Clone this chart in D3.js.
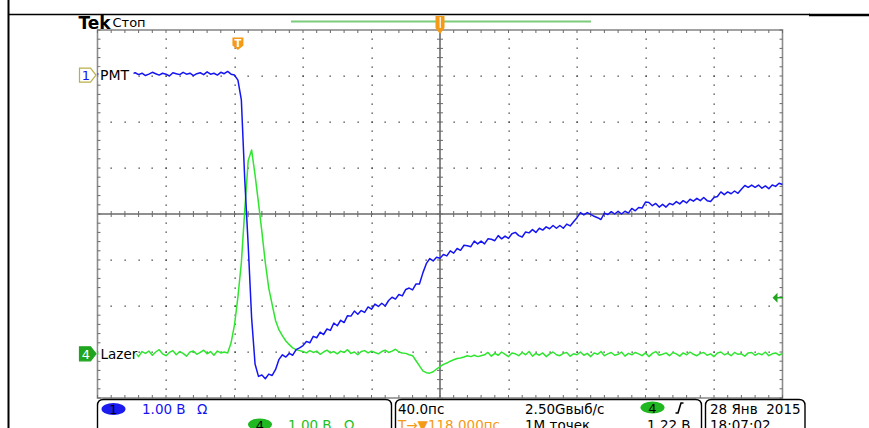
<!DOCTYPE html>
<html>
<head>
<meta charset="utf-8">
<script src="https://cdn.jsdelivr.net/npm/d3@7"></script>
<style>
  html, body { margin: 0; padding: 0; background: #fff; overflow: hidden; }
  svg { display: block; }
  text { font-family: "DejaVu Sans", sans-serif; }
</style>
</head>
<body>
<svg id="scope" width="869" height="428"></svg>
<script>
// ---- acquisition: 2 ns sample clock across the 400 ns window ----
const timeNs = d3.range(-200, 201, 2);

// CH1 "PMT" (V, relative to its ground marker)
const pmtVolts = [
  0.02, 0.04, -0.01, 0.03, 0.05, 0.00, 0.02, 0.06, 0.01, -0.02,
  0.03, 0.05, 0.01, 0.04, -0.01, 0.02, 0.06, 0.03, 0.00, 0.04,
  0.02, -0.02, 0.05, 0.03, 0.01, 0.06, 0.02, 0.04, -0.01, 0.03,
  0.05, 0.01, 0.07, 0.02, 0.04, 0.00, 0.06, 0.03, 0.08, 0.02,
  0.00, -0.11, -0.54, -2.28, -3.70, -5.28, -6.28, -6.55, -6.52, -6.60, -6.50,
  -6.53, -6.40, -6.18, -6.08, -6.13, -6.05, -6.09, -5.97, -5.93, -5.88,
  -5.79, -5.82, -5.68, -5.71, -5.59, -5.64, -5.52, -5.55, -5.39, -5.45,
  -5.33, -5.38, -5.23, -5.24, -5.13, -5.20, -5.12, -5.16, -5.04, -5.09,
  -4.98, -5.03, -4.96, -5.02, -4.90, -4.83, -4.87, -4.77, -4.80, -4.66,
  -4.63, -4.67, -4.54, -4.54, -4.30, -4.10, -3.99, -4.04, -3.96, -3.98,
  -3.90, -3.93, -3.82, -3.87, -3.77, -3.81, -3.70, -3.71, -3.73, -3.61,
  -3.67, -3.61, -3.67, -3.56, -3.57, -3.60, -3.49, -3.56, -3.50, -3.55,
  -3.45, -3.42, -3.49, -3.52, -3.41, -3.43, -3.36, -3.42, -3.33, -3.37,
  -3.30, -3.34, -3.27, -3.33, -3.27, -3.33, -3.24, -3.28, -3.19, -3.10,
  -2.99, -3.04, -2.99, -3.03, -3.07, -3.10, -3.14, -3.00, -3.03, -2.97,
  -3.02, -2.96, -3.02, -2.96, -3.00, -2.90, -2.95, -2.88, -2.89, -2.76,
  -2.77, -2.84, -2.79, -2.87, -2.81, -2.87, -2.79, -2.82, -2.75, -2.80,
  -2.73, -2.78, -2.70, -2.74, -2.68, -2.73, -2.66, -2.73, -2.75, -2.66,
  -2.64, -2.54, -2.60, -2.54, -2.58, -2.52, -2.57, -2.48, -2.40, -2.44,
  -2.39, -2.44, -2.39, -2.46, -2.41, -2.47, -2.39, -2.42, -2.35, -2.38
];

// CH4 "Lazer" (V, relative to its ground marker)
const lazerVolts = [
  0.02, -0.04, 0.05, 0.00, 0.07, -0.02, 0.03, -0.05, 0.04, 0.08,
  -0.01, 0.02, -0.06, 0.05, 0.01, 0.06, -0.03, 0.04, 0.09, 0.00,
  -0.04, 0.03, 0.07, -0.02, 0.05, 0.01, -0.05, 0.04, 0.06, -0.01,
  0.03, 0.08, 0.00, 0.05, -0.03, 0.06, 0.02, 0.04,
  0.02, 0.24, 0.63, 1.24, 1.98, 3.13, 4.20, 4.43, 3.89, 3.28,
  2.65, 1.98, 1.43, 1.07, 0.72, 0.52, 0.39, 0.28, 0.20, 0.13, 0.09, 0.07,
  0.05, 0.02, 0.07, 0.03, 0.06, -0.01, 0.04, 0.08, 0.02, 0.05,
  0.00, 0.06, 0.03, 0.09, 0.01, 0.04, -0.02, 0.05, 0.07, 0.02,
  0.06, 0.03, 0.00, 0.05, 0.08, 0.03, 0.06,
  0.10, 0.04, 0.02, 0.01, -0.02, -0.04, -0.15, -0.26, -0.37, -0.41,
  -0.42, -0.39, -0.33, -0.28, -0.23, -0.20, -0.16, -0.13, -0.10, -0.09,
  -0.07, -0.04, -0.06, -0.03, -0.06, -0.04,
  -0.02, 0.03, -0.05, 0.01, -0.03, 0.04, -0.01, -0.06, 0.02, 0.00,
  -0.04, 0.03, -0.02, 0.05, -0.05, 0.01, -0.03, 0.02, -0.06, 0.00,
  0.04, -0.02, -0.04, 0.01, 0.03, -0.05, 0.00, -0.02, 0.04, -0.03,
  0.01, -0.06, 0.02, -0.01, 0.05, -0.04, 0.00, 0.03, -0.03, -0.01,
  0.04, -0.05, 0.01, -0.02, 0.03, 0.00, -0.04, 0.02, -0.06, 0.01,
  0.05, -0.03, -0.01, 0.02, -0.04, 0.03, 0.00, -0.05, 0.02, -0.02,
  0.04, -0.01, -0.04, 0.01, 0.03, -0.03, 0.00, -0.06, 0.02, 0.04,
  -0.02, 0.01, -0.04, 0.03, -0.01, 0.00, -0.05, 0.02, 0.03, -0.03,
  0.01, -0.02, 0.04, -0.04, 0.00, 0.02, -0.03, 0.01
];

// graticule: 10 x 8 divisions, 40 ns/div, 1 V/div
const timeTicks = [-200, -160, -120, -80, -40, 0, 40, 80, 120, 160, 200];
const divTicks = [-4, -3, -2, -1, 0, 1, 2, 3, 4];
const channelLabels = ["PMT", "Lazer"];
const channelOffsetDiv = [3.02, -3.04];   // ground marker positions
const triggerTimeNs = -118;
const triggerLevelV = 1.22;

const svg = d3.select("#scope");
const x = d3.scaleLinear().domain([-200, 200]).range([97.5, 782.5]);
const y = d3.scaleLinear().domain([-4, 4]).range([398, 30]);

const GRID = "#8c8c8c", AXIS = "#6a6a6a", DOT = "#3a3a3a";
const BLUE = "#1515f2", GREEN = "#2fe52f", DKGREEN = "#1fa51f", ORANGE = "#f49a16";

// ---- frame decoration ----
svg.append("line").attr("x1", 8.5).attr("x2", 8.5).attr("y1", 0).attr("y2", 428)
  .attr("stroke", "#000").attr("stroke-width", 2);
svg.append("line").attr("x1", 8).attr("x2", 810).attr("y1", 14.5).attr("y2", 14.5)
  .attr("stroke", "#000").attr("stroke-width", 1.5);
svg.append("line").attr("x1", 809).attr("x2", 869).attr("y1", 15).attr("y2", 15)
  .attr("stroke", "#000").attr("stroke-width", 2.5);

// ---- graticule dots ----
const minorT = d3.range(-200, 200.1, 8);
const minorD = d3.range(-4, 4.01, 0.2);
const dots = svg.append("g");
timeTicks.slice(1, -1).filter(t => t !== 0).forEach(t => {
  minorD.slice(1, -1).forEach(d => {
    dots.append("rect").attr("x", Math.round(x(t)) - 0.5).attr("y", Math.round(y(d)) - 0.5)
      .attr("width", 1.3).attr("height", 1.3).attr("fill", DOT);
  });
});
divTicks.slice(1, -1).filter(d => d !== 0).forEach(d => {
  minorT.slice(1, -1).forEach(t => {
    dots.append("rect").attr("x", Math.round(x(t)) - 0.5).attr("y", Math.round(y(d)) - 0.5)
      .attr("width", 1.3).attr("height", 1.3).attr("fill", DOT);
  });
});

// ---- centre cross with ticks ----
const axisG = svg.append("g");
axisG.append("line").attr("x1", x(-200)).attr("x2", x(200)).attr("y1", y(0)).attr("y2", y(0))
  .attr("stroke", AXIS).attr("stroke-width", 1.6);
axisG.append("line").attr("x1", x(0)).attr("x2", x(0)).attr("y1", y(-4)).attr("y2", y(4))
  .attr("stroke", AXIS).attr("stroke-width", 1.6);
minorT.forEach(t => axisG.append("line").attr("x1", x(t)).attr("x2", x(t))
  .attr("y1", y(0) - 3).attr("y2", y(0) + 3).attr("stroke", AXIS).attr("stroke-width", 1));
minorD.forEach(d => axisG.append("line").attr("x1", x(0) - 3).attr("x2", x(0) + 3)
  .attr("y1", y(d)).attr("y2", y(d)).attr("stroke", AXIS).attr("stroke-width", 1));

// ---- border with inward ticks ----
axisG.append("rect").attr("x", x(-200)).attr("y", y(4)).attr("width", x(200) - x(-200))
  .attr("height", y(-4) - y(4)).attr("fill", "none").attr("stroke", GRID).attr("stroke-width", 1.6);
minorT.forEach(t => {
  axisG.append("line").attr("x1", x(t)).attr("x2", x(t)).attr("y1", y(4)).attr("y2", y(4) + 3)
    .attr("stroke", AXIS).attr("stroke-width", 1);
  axisG.append("line").attr("x1", x(t)).attr("x2", x(t)).attr("y1", y(-4)).attr("y2", y(-4) - 3)
    .attr("stroke", AXIS).attr("stroke-width", 1);
});
minorD.forEach(d => {
  axisG.append("line").attr("x1", x(-200)).attr("x2", x(-200) + 3).attr("y1", y(d)).attr("y2", y(d))
    .attr("stroke", AXIS).attr("stroke-width", 1);
  axisG.append("line").attr("x1", x(200)).attr("x2", x(200) - 3).attr("y1", y(d)).attr("y2", y(d))
    .attr("stroke", AXIS).attr("stroke-width", 1);
});

// ---- waveforms ----
const traces = [
  { volts: lazerVolts, offset: channelOffsetDiv[1], color: GREEN },
  { volts: pmtVolts, offset: channelOffsetDiv[0], color: BLUE }
];
traces.forEach(tr => {
  const line = d3.line()
    .x((d, i) => x(timeNs[i]))
    .y(d => y(d + tr.offset));
  svg.append("path").datum(tr.volts).attr("d", line)
    .attr("fill", "none").attr("stroke", tr.color).attr("stroke-width", 1.5)
    .attr("stroke-linejoin", "round");
});

// ---- channel labels and ground markers ----
function channelMarker(yy, num, fill, stroke, textFill) {
  const g = svg.append("g");
  g.append("path")
    .attr("d", `M79.5,${yy - 7} h11 l5.5,7 l-5.5,7 h-11 z`)
    .attr("fill", fill).attr("stroke", stroke).attr("stroke-width", 1.2);
  g.append("text").attr("x", 86).attr("y", yy + 5).attr("text-anchor", "middle")
    .attr("font-size", 13).attr("fill", textFill).text(num);
}
// label backgrounds hide the trace behind the name
svg.append("rect").attr("x", 98.5).attr("y", y(channelOffsetDiv[0]) - 8).attr("width", 35).attr("height", 14).attr("fill", "#fff");
svg.append("rect").attr("x", 98.5).attr("y", y(channelOffsetDiv[1]) - 8).attr("width", 38).attr("height", 15).attr("fill", "#fff");
channelMarker(y(channelOffsetDiv[0]), "1", "#fff", "#b9b04a", BLUE);
channelMarker(y(channelOffsetDiv[1]), "4", DKGREEN, DKGREEN, "#fff");
svg.append("text").attr("x", 100).attr("y", y(channelOffsetDiv[0]) + 5)
  .attr("font-size", 14).attr("fill", "#000").text(channelLabels[0]);
svg.append("text").attr("x", 100.5).attr("y", y(channelOffsetDiv[1]) + 5.5)
  .attr("font-size", 13.5).attr("fill", "#000").text(channelLabels[1]);

// ---- trigger level arrow (right edge) ----
const ty = y(channelOffsetDiv[1] + triggerLevelV);
svg.append("path").attr("d", `M772.5,${ty} l5,-5 v10 z`).attr("fill", DKGREEN);
svg.append("line").attr("x1", 776).attr("x2", 783).attr("y1", ty).attr("y2", ty)
  .attr("stroke", DKGREEN).attr("stroke-width", 1.5);

// ---- header ----
svg.append("text").attr("x", 78.5).attr("y", 28.5).attr("font-family", "Liberation Serif")
  .attr("font-weight", "bold").attr("font-size", 17).attr("fill", "#000").text("Tek");
svg.append("text").attr("x", 112.5).attr("y", 27).attr("font-size", 13).attr("fill", "#000").text("Стоп");

// record view bar
svg.append("line").attr("x1", x(0) - 149).attr("x2", x(0) + 151).attr("y1", 21.5).attr("y2", 21.5)
  .attr("stroke", "#7ccc7c").attr("stroke-width", 2);

// expansion point marker
const ex = x(0);
svg.append("path").attr("d", `M${ex - 4.5},16 h9 v12 l-4.5,6 l-4.5,-6 z`).attr("fill", ORANGE);
svg.append("line").attr("x1", ex + 0.2).attr("x2", ex + 0.2).attr("y1", 17).attr("y2", 28)
  .attr("stroke", "#fff").attr("stroke-width", 1.2);

// trigger position marker
const tx = x(triggerTimeNs);
svg.append("path").attr("d", `M${tx - 5.5},37.5 h11 v8 l-5.5,4.5 l-5.5,-4.5 z`).attr("fill", ORANGE);
svg.append("text").attr("x", tx).attr("y", 47).attr("text-anchor", "middle")
  .attr("font-size", 10).attr("font-weight", "bold").attr("fill", "#fff").text("T");

// ---- readout panels ----
function panel(x0, x1) {
  const r = 6, top = 399.5;
  svg.append("path")
    .attr("d", `M${x0},430 V${top + r} Q${x0},${top} ${x0 + r},${top} H${x1 - r} Q${x1},${top} ${x1},${top + r} V430`)
    .attr("fill", "none").attr("stroke", "#000").attr("stroke-width", 1.4);
}
panel(97.5, 391.5);
panel(395.5, 701.5);
panel(705.5, 805);

function oval(cx, cy, fill, label) {
  svg.append("ellipse").attr("cx", cx).attr("cy", cy).attr("rx", 12).attr("ry", 6).attr("fill", fill);
  svg.append("text").attr("x", cx).attr("y", cy + 5).attr("text-anchor", "middle")
    .attr("font-size", 13).attr("fill", "#000").text(label);
}
const FS = 13.5;
oval(113.5, 409, "#1b1bf0", "1");
svg.append("text").attr("x", 142).attr("y", 414).attr("font-size", FS).attr("fill", BLUE).text("1.00 В");
svg.append("text").attr("x", 197).attr("y", 414).attr("font-size", FS).attr("fill", BLUE).text("Ω");
oval(260, 424.5, "#20b820", "4");
svg.append("text").attr("x", 288).attr("y", 430).attr("font-size", FS).attr("fill", "#22c022").text("1.00 В");
svg.append("text").attr("x", 344).attr("y", 430).attr("font-size", FS).attr("fill", "#22c022").text("Ω");

svg.append("text").attr("x", 398).attr("y", 414).attr("font-size", FS).attr("fill", "#000").text("40.0пс");
svg.append("text").attr("x", 525).attr("y", 414).attr("font-size", FS).attr("fill", "#000").text("2.50Gвыб/с");
svg.append("text").attr("x", 398).attr("y", 430).attr("font-size", FS).attr("fill", ORANGE).text("T→▼118.000пс");
svg.append("text").attr("x", 525).attr("y", 430).attr("font-size", FS).attr("fill", "#000").text("1M точек");
oval(652.5, 407.5, "#20b820", "4");
svg.append("path").attr("d", "M675.5,413 h2.5 l3,-10 h2.5").attr("fill", "none")
  .attr("stroke", "#000").attr("stroke-width", 1.6);
svg.append("text").attr("x", 647).attr("y", 430).attr("font-size", FS).attr("fill", "#000").text("1.22 В");

svg.append("text").attr("x", 710).attr("y", 414).attr("font-size", FS).attr("fill", "#000")
  .attr("xml:space", "preserve").text("28 Янв  2015");
svg.append("text").attr("x", 710).attr("y", 430).attr("font-size", FS).attr("fill", "#000").text("18:07:02");
</script>
</body>
</html>
